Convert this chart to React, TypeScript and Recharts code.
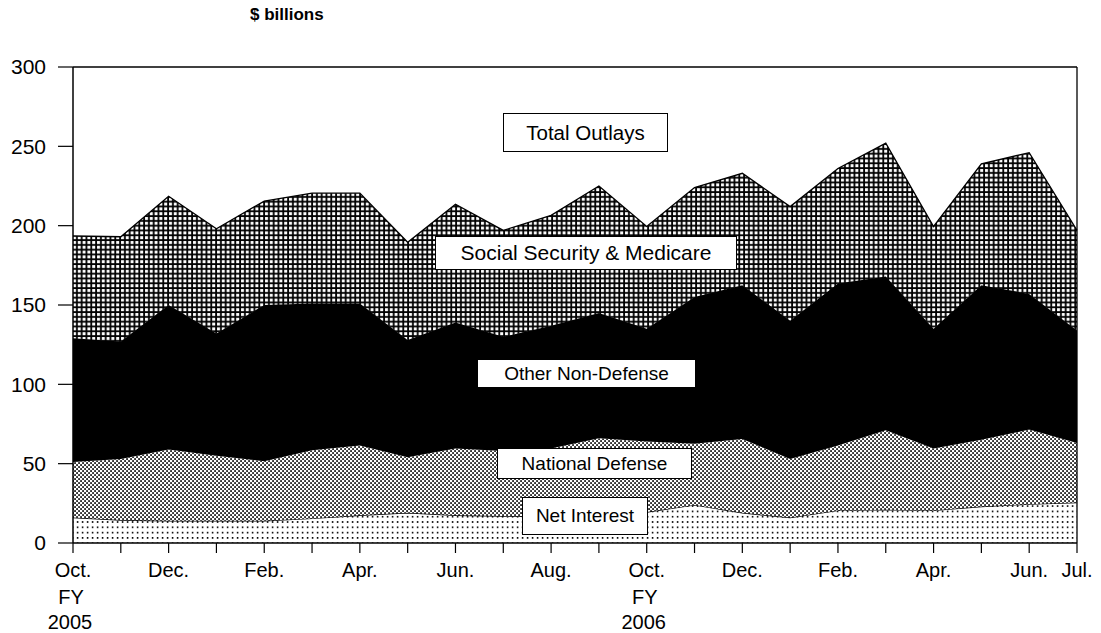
import React from "react"
import { AreaChart, Area, XAxis, YAxis, ReferenceLine } from "recharts"

// FY2005 Oct. through FY2006 Jul., $ billions
const months = [
  "Oct.", "Nov.", "Dec.", "Jan.", "Feb.", "Mar.", "Apr.", "May", "Jun.", "Jul.", "Aug.", "Sep.",
  "Oct.", "Nov.", "Dec.", "Jan.", "Feb.", "Mar.", "Apr.", "May", "Jun.", "Jul.",
]
const fiscalYears: Record<number, string> = { 0: "2005", 12: "2006" }
const labeledMonths = [0, 2, 4, 6, 8, 10, 12, 14, 16, 18, 20, 21]

const netInterest = [16, 14.5, 14, 14, 14, 15.5, 17.5, 19, 17.5, 17, 16.5, 18, 19.5, 24, 19, 16, 20.5, 21, 20.5, 23, 24.5, 25.5]
const nationalDefense = [35, 38.5, 45, 41, 37.5, 43, 44, 35, 42, 41, 43, 48, 44.5, 38.5, 46.5, 37, 41, 50, 39, 42, 47, 37.5]
const otherNonDefense = [78, 74, 91, 77, 98.5, 92.5, 89.5, 74, 79.5, 72, 77.5, 79, 71, 92.5, 97, 87, 102, 97, 75.5, 97.5, 85.5, 71]
const socialSecurityMedicare = [64.5, 66, 68.5, 66, 65.5, 69.5, 69.5, 61.5, 74.5, 67, 69.5, 80, 64.5, 69, 70.5, 72, 72.5, 84, 64.5, 76.5, 89, 63]

const yTicks = [0, 50, 100, 150, 200, 250, 300]

const data = months.map((m, i) => ({
  idx: i,
  month: m,
  netInterest: netInterest[i],
  defense: nationalDefense[i],
  other: otherNonDefense[i],
  ssm: socialSecurityMedicare[i],
}))

const font = "'Liberation Sans', Arial, sans-serif"

function MonthTick(props: any) {
  const { x, y, payload } = props
  const i = payload.value
  if (!labeledMonths.includes(i)) return <g />
  const fy = fiscalYears[i]
  return (
    <g>
      <text x={x} y={y + 22} textAnchor="middle" fontSize={20} fontFamily={font} fill="#000">
        {months[i]}
      </text>
      {fy && (
        <text x={x - 2} y={y + 49} textAnchor="middle" fontSize={20} fontFamily={font} fill="#000">
          FY
        </text>
      )}
      {fy && (
        <text x={x - 3} y={y + 74} textAnchor="middle" fontSize={20} fontFamily={font} fill="#000">
          {fy}
        </text>
      )}
    </g>
  )
}

const boxes = [
  { text: "Total Outlays", left: 503, top: 113, width: 165, height: 39, size: 20.5 },
  { text: "Social Security & Medicare", left: 435, top: 236, width: 302, height: 34, size: 21 },
  { text: "Other Non-Defense", left: 477, top: 359, width: 219, height: 29, size: 19 },
  { text: "National Defense", left: 497, top: 448, width: 195, height: 31, size: 19 },
  { text: "Net Interest", left: 522, top: 497, width: 126, height: 38, size: 19 },
]

export default function App() {
  return (
    <div style={{ position: "absolute", left: 0, top: 0, width: 1101, height: 633, background: "#fff", fontFamily: font }}>
      <div style={{ position: "absolute", left: 250, top: 5, fontSize: 17, fontWeight: "bold" }}>$ billions</div>
      <AreaChart width={1101} height={633} data={data} margin={{ top: 67, right: 24, left: 0, bottom: 0 }}>
        <defs>
          <pattern id="niPat" width="5" height="5.3" patternUnits="userSpaceOnUse">
            <rect width="5" height="5.3" fill="#fff" />
            <rect x="1.8" y="1.8" width="1.6" height="1.6" fill="#000" />
          </pattern>
          <pattern id="defPat" width="4" height="4" patternUnits="userSpaceOnUse">
            <rect width="4" height="4" fill="#fff" />
            <rect x="0.2" y="0.2" width="1.7" height="1.7" fill="#000" />
            <rect x="2.2" y="2.2" width="1.7" height="1.7" fill="#000" />
          </pattern>
          <pattern id="ssmPat" width="4.8" height="4.8" patternUnits="userSpaceOnUse">
            <rect width="4.8" height="4.8" fill="#000" />
            <rect x="1" y="1" width="3" height="3" fill="#fff" />
          </pattern>
        </defs>
        <XAxis
          type="number"
          dataKey="idx"
          domain={[0, 21]}
          ticks={months.map((_, i) => i)}
          interval={0}
          height={90}
          tickSize={10}
          axisLine={{ stroke: "#000", strokeWidth: 1.5 }}
          tickLine={{ stroke: "#000", strokeWidth: 1.2 }}
          tick={<MonthTick />}
        />
        <YAxis
          domain={[0, 300]}
          ticks={yTicks}
          width={73}
          tickSize={15}
          tickMargin={12}
          axisLine={{ stroke: "#000", strokeWidth: 1.5 }}
          tickLine={{ stroke: "#000", strokeWidth: 1.2 }}
          tick={{ fill: "#000", fontSize: 21, fontFamily: font }}
        />
        <Area type="linear" dataKey="netInterest" stackId="1" stroke="#000" strokeWidth={1.3} fill="url(#niPat)" fillOpacity={1} isAnimationActive={false} />
        <Area type="linear" dataKey="defense" stackId="1" stroke="none" fill="url(#defPat)" fillOpacity={1} isAnimationActive={false} />
        <Area type="linear" dataKey="other" stackId="1" stroke="#000" strokeWidth={1} fill="#000" fillOpacity={1} isAnimationActive={false} />
        <Area type="linear" dataKey="ssm" stackId="1" stroke="#000" strokeWidth={1.3} fill="url(#ssmPat)" fillOpacity={1} isAnimationActive={false} />
        <ReferenceLine y={300} stroke="#000" strokeWidth={1.3} />
        <ReferenceLine x={21} stroke="#000" strokeWidth={1.3} />
      </AreaChart>
      {boxes.map((b) => (
        <div
          key={b.text}
          style={{
            position: "absolute",
            left: b.left,
            top: b.top,
            width: b.width,
            height: b.height,
            boxSizing: "border-box",
            border: "1.5px solid #000",
            background: "#fff",
            display: "flex",
            alignItems: "center",
            justifyContent: "center",
            fontSize: b.size,
            whiteSpace: "nowrap",
          }}
        >
          {b.text}
        </div>
      ))}
    </div>
  )
}
